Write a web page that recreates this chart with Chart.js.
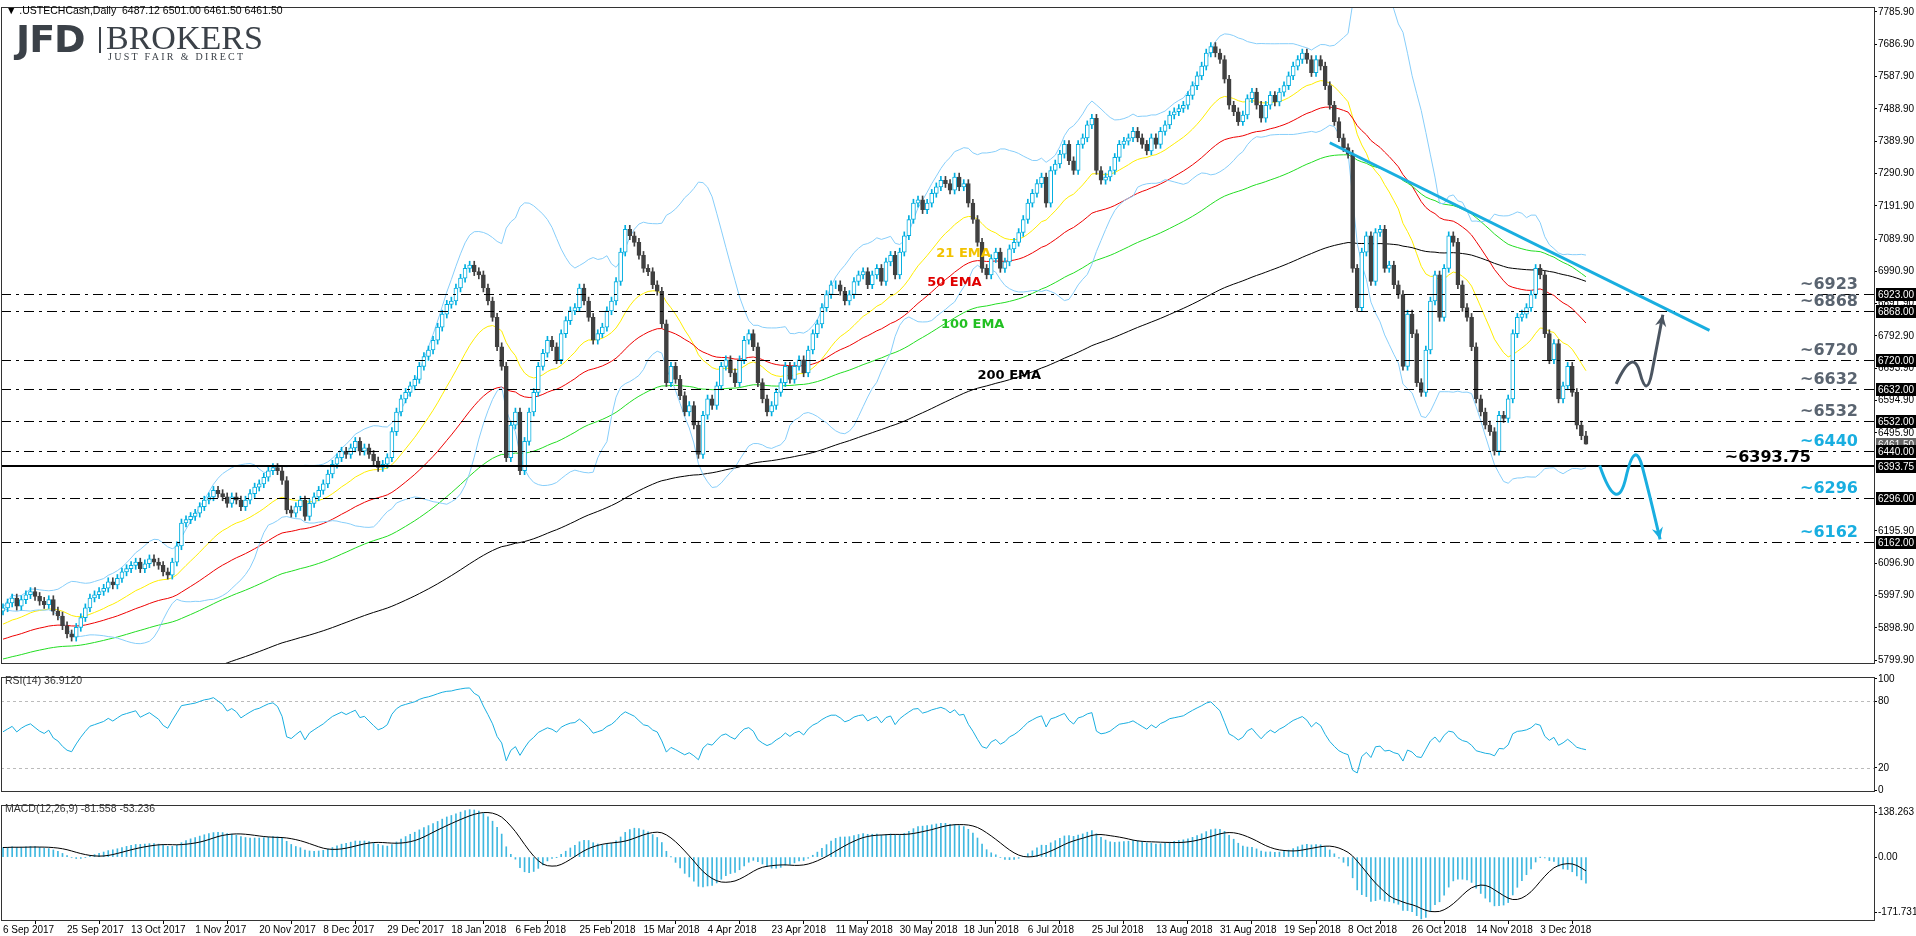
<!DOCTYPE html>
<html><head><meta charset="utf-8">
<script src="https://cdn.jsdelivr.net/npm/chart.js@4.4.1/dist/chart.umd.min.js"></script>
<style>
body{margin:0;background:#fff;width:1916px;height:936px;overflow:hidden;position:relative}
canvas{position:absolute;left:0}
.t{position:absolute;white-space:nowrap;z-index:5}
</style></head><body>
<canvas id="price" width="1916" height="670" style="top:0"></canvas>
<canvas id="rsi" width="1916" height="128" style="top:670px"></canvas>
<canvas id="macd" width="1916" height="138" style="top:798px"></canvas>
<div class="t" style="left:6px;top:4px;font:10.5px 'Liberation Sans';color:#000">&#9660; .USTECHCash,Daily&nbsp;&nbsp;6487.12 6501.00 6461.50 6461.50</div>
<div class="t" style="left:16px;top:17px;font:bold 38px 'DejaVu Sans';color:#3b4148;letter-spacing:-1px">JFD</div>
<div class="t" style="left:99px;top:27px;width:2px;height:26px;background:#3b4148"></div>
<div class="t" style="left:106px;top:19px;font:34px 'Liberation Serif';color:#3b4148">BROKERS</div>
<div class="t" style="left:108px;top:51px;font:10px 'Liberation Serif';color:#3b4148;letter-spacing:2.3px">JUST FAIR &amp; DIRECT</div>
<script>
// daily closes, one array per date-label interval (14 bars each)
const sep17a = [5960,5975,5990,5965,5985,6000,6010,5995,5980,5970,5985,5950,5935,5905];
const sep17b = [5880,5870,5900,5930,5960,5990,6000,6010,6020,6040,6030,6050,6070,6080];
const oct17  = [6090,6100,6080,6095,6110,6100,6090,6070,6060,6100,6150,6220,6230,6240];
const nov17a = [6250,6270,6290,6300,6320,6310,6300,6280,6300,6290,6270,6290,6310,6330];
const nov17b = [6340,6360,6380,6390,6380,6350,6260,6250,6270,6290,6240,6280,6300,6320];
const dec17  = [6340,6370,6400,6420,6440,6430,6450,6470,6440,6450,6430,6410,6390,6400];
const jan18a = [6420,6500,6560,6600,6620,6640,6660,6700,6730,6750,6780,6820,6860,6890];
const jan18b = [6900,6940,6970,7000,7010,6990,6980,6940,6900,6850,6760,6700,6420,6520];
const feb18a = [6560,6380,6470,6560,6620,6700,6740,6780,6760,6720,6800,6840,6870,6880];
const feb18b = [6940,6900,6850,6780,6800,6820,6870,6900,6960,7050,7120,7100,7080,7040];
const mar18  = [7000,6990,6950,6930,6830,6650,6700,6660,6610,6560,6580,6520,6430,6550];
const apr18a = [6600,6580,6640,6700,6720,6680,6650,6720,6780,6800,6760,6650,6600,6560];
const apr18b = [6580,6620,6650,6700,6660,6700,6720,6680,6750,6800,6830,6880,6920,6950];
const may18  = [6950,6930,6900,6920,6960,6980,6990,6950,6980,7000,6960,7020,7040,6980];
const jun18a = [7050,7100,7150,7200,7210,7180,7200,7230,7250,7270,7260,7240,7280,7250];
const jun18b = [7260,7200,7150,7080,7000,6980,7030,7050,7000,7020,7060,7080,7110,7150];
const jul18a = [7200,7230,7260,7280,7200,7300,7320,7350,7380,7330,7300,7380,7400,7440];
const jul18b = [7460,7300,7270,7280,7300,7340,7380,7390,7400,7420,7400,7380,7360,7400];
const aug18  = [7380,7420,7440,7470,7480,7490,7500,7530,7560,7590,7620,7660,7680,7660];
const sep18a = [7640,7580,7500,7480,7450,7470,7520,7540,7500,7460,7500,7530,7510,7540];
const sep18b = [7560,7590,7620,7640,7660,7640,7600,7640,7620,7560,7500,7450,7400,7370];
const oct18a = [7350,7000,6880,7050,7100,6960,7110,7120,7000,7010,6950,6920,6700,6860];
const oct18b = [6800,6650,6620,6750,6900,6980,6850,7000,7100,7080,6950,6880,6850,6760];
const nov18  = [6600,6560,6520,6500,6440,6550,6540,6600,6800,6850,6860,6880,6920,7000];
const dec18  = [6980,6800,6720,6770,6600,6640,6700,6620,6520,6487.12,6461.5];

const tickLabels = ['6 Sep 2017','25 Sep 2017','13 Oct 2017','1 Nov 2017','20 Nov 2017','8 Dec 2017',
  '29 Dec 2017','18 Jan 2018','6 Feb 2018','25 Feb 2018','15 Mar 2018','4 Apr 2018','23 Apr 2018',
  '11 May 2018','30 May 2018','18 Jun 2018','6 Jul 2018','25 Jul 2018','13 Aug 2018','31 Aug 2018',
  '19 Sep 2018','8 Oct 2018','26 Oct 2018','14 Nov 2018','3 Dec 2018'];
const priceTicks = [7785.9,7686.9,7587.9,7488.9,7389.9,7290.9,7191.9,7089.9,6990.9,6891.9,6792.9,
  6693.9,6594.9,6495.9,6195.9,6096.9,5997.9,5898.9,5799.9];
const levels = [6923,6868,6720,6632,6532,6440,6296,6162];
const support = 6393.75;
const lastBar = {o:6487.12, h:6501, l:6461.5, c:6461.5};

const closes = [].concat(sep17a,sep17b,oct17,nov17a,nov17b,dec17,jan18a,jan18b,feb18a,feb18b,mar18,
  apr18a,apr18b,may18,jun18a,jun18b,jul18a,jul18b,aug18,sep18a,sep18b,oct18a,oct18b,nov18,dec18);
const N = closes.length;
const opens = closes.map((c,i)=> i===0 ? 5950 : closes[i-1]);
opens[N-1] = lastBar.o;
const highs = closes.map((c,i)=> Math.max(c,opens[i]) + 12);
const lows  = closes.map((c,i)=> Math.min(c,opens[i]) - 12);
highs[N-1] = lastBar.h; lows[N-1] = lastBar.l;

function ema(arr, n, seed){ const k=2/(n+1); let e=seed; return arr.map(v=> e = v*k + e*(1-k)); }
const ema21 = ema(closes,21,5905), ema50 = ema(closes,50,5860), ema100 = ema(closes,100,5800), ema200 = ema(closes,200,5600);
const bbUp=[], bbLo=[];
closes.forEach((c,i)=>{ const w=closes.slice(Math.max(0,i-19),i+1); const m=w.reduce((a,b)=>a+b,0)/w.length;
  const sd=Math.sqrt(w.reduce((a,b)=>a+(b-m)*(b-m),0)/w.length); bbUp.push(m+2*sd); bbLo.push(m-2*sd); });
const rsi=[]; { let ag=11, al=10; closes.forEach((c,i)=>{ if(i>0){ const d=c-closes[i-1];
  ag=(ag*13+Math.max(d,0))/14; al=(al*13+Math.max(-d,0))/14; } rsi.push(100-100/(1+ag/al)); }); }
const e12 = ema(closes,12,5935), e26 = ema(closes,26,5905);
const macd = e12.map((v,i)=> v-e26[i]);
const signal = macd.map((v,i)=>{ const w=macd.slice(Math.max(0,i-8),i+1); return w.reduce((a,b)=>a+b,0)/w.length; });

const xy = arr => arr.map((y,i)=>({x:i,y}));
const BULL='#00aee0', BEAR='#404040';
const isBull = i => closes[i] >= opens[i];
const FONT = {family:'Liberation Sans', size:10};
const XMIN=-0.44, XMAX=408.96;
const xScale = extra => Object.assign({type:'linear', min:XMIN, max:XMAX, display:false, offset:false, grid:{display:false}}, extra||{});
const yAxis = (min,max,ticks,fmt) => ({position:'right', min, max,
  afterBuildTicks: s => { s.ticks = ticks.map(v=>({value:v})); },
  afterFit: s => { s.width = 42; },
  ticks:{font:FONT, color:'#000', padding:1, callback: fmt},
  grid:{drawOnChartArea:false, drawTicks:true, tickLength:3, color:'#000'},
  border:{display:true, color:'#333'}});
const line = (data,color,w) => ({type:'line', data:xy(data), borderColor:color, borderWidth:w||1, pointRadius:0, tension:0, order:1});
const frame = {id:'frame', afterDraw(c){ const a=c.chartArea, x=c.ctx; x.save(); x.strokeStyle='#333'; x.lineWidth=1;
  x.strokeRect(Math.round(a.left)+0.5, Math.round(a.top)+0.5, Math.round(a.right-a.left), Math.round(a.bottom-a.top)); x.restore(); }};
const common = {responsive:false, animation:false, devicePixelRatio:1, plugins:{legend:{display:false}, tooltip:{enabled:false}}};

function arrowHead(ctx, x1,y1,x2,y2, size){ const a=Math.atan2(y2-y1,x2-x1);
  ctx.beginPath(); ctx.moveTo(x2,y2); ctx.lineTo(x2-size*Math.cos(a-0.45), y2-size*Math.sin(a-0.45));
  ctx.lineTo(x2-size*0.6*Math.cos(a), y2-size*0.6*Math.sin(a));
  ctx.lineTo(x2-size*Math.cos(a+0.45), y2-size*Math.sin(a+0.45)); ctx.closePath(); ctx.fill(); }

const priceNotes = {id:'priceNotes', afterDatasetsDraw(c){
  const ctx=c.ctx, a=c.chartArea, X=c.scales.x, Y=c.scales.y;
  const px=i=>X.getPixelForValue(i), py=v=>Y.getPixelForValue(v);
  ctx.save(); ctx.beginPath(); ctx.rect(a.left,a.top,a.right-a.left,a.bottom-a.top); ctx.clip();
  ctx.strokeStyle='#000'; ctx.lineWidth=1; ctx.setLineDash([10,5,3,5]);
  levels.forEach(v=>{ const y=Math.round(py(v))+0.5; ctx.beginPath(); ctx.moveTo(a.left,y); ctx.lineTo(a.right,y); ctx.stroke(); });
  ctx.setLineDash([]); ctx.lineWidth=2; const ys=Math.round(py(support));
  ctx.beginPath(); ctx.moveTo(a.left,ys); ctx.lineTo(a.right,ys); ctx.stroke();
  // trend line
  ctx.strokeStyle='#19aee0'; ctx.lineWidth=3; ctx.beginPath(); ctx.moveTo(px(290),py(7385)); ctx.lineTo(px(373),py(6810)); ctx.stroke();
  // scenario arrows
  const path=(pts,col)=>{ ctx.strokeStyle=col; ctx.fillStyle=col; ctx.lineWidth=3; ctx.beginPath();
    const p=pts.map(q=>[px(q[0]),py(q[1])]); ctx.moveTo(p[0][0],p[0][1]);
    for(let i=1;i<p.length;i++){
      if(i<p.length-1) ctx.quadraticCurveTo(p[i][0],p[i][1],(p[i][0]+p[i+1][0])/2,(p[i][1]+p[i+1][1])/2); else ctx.lineTo(p[i][0],p[i][1]); }
    ctx.stroke(); const n=p.length; arrowHead(ctx,p[n-2][0],p[n-2][1],p[n-1][0],p[n-1][1],13); };
  path([[352.6,6646],[356.3,6760],[359.3,6600],[361.5,6760],[362.8,6858]],'#4b5561');
  path([[349,6396],[352.8,6240],[356.7,6480],[360,6300],[362.2,6170]],'#19aee0');
  // labels
  ctx.font='bold 13px "DejaVu Sans"'; ctx.textAlign='left'; ctx.textBaseline='middle';
  [['21 EMA',204,7046,'#f2c200'],['50 EMA',202,6955,'#e00000'],['100 EMA',205,6827,'#22c022'],['200 EMA',213,6672,'#000']]
    .forEach(([t,i,v,col])=>{ ctx.fillStyle=col; ctx.fillText(t,px(i),py(v)); });
  ctx.font='bold 16px "DejaVu Sans"'; ctx.textAlign='right'; ctx.textBaseline='alphabetic';
  levels.forEach(v=>{ ctx.fillStyle = v<=6440 ? '#19aee0' : '#5a6470'; ctx.fillText('~'+v, 1858, py(v)-5); });
  ctx.fillStyle='#000'; ctx.fillText('~'+support, 1811, py(support)-4);
  ctx.restore();
  // price tags
  ctx.save(); ctx.font='10px "Liberation Sans"'; ctx.textBaseline='middle'; ctx.textAlign='left';
  const tag=(v,bg)=>{ const y=Math.round(py(v)); ctx.fillStyle=bg; ctx.fillRect(a.right+2,y-6,40,13); ctx.fillStyle='#fff'; ctx.fillText(v.toFixed(2),a.right+4,y+1); };
  tag(lastBar.c,'#666');
  levels.concat([support]).forEach(v=>tag(v,'#000'));
  ctx.restore(); }};

new Chart(document.getElementById('price'), {
  type:'bar',
  data:{datasets:[
    line(bbUp,'#87cefa'), line(bbLo,'#87cefa'),
    line(ema200,'#000'), line(ema100,'#22dd22'), line(ema50,'#ee0000'), line(ema21,'#ffee00'),
    {data:closes.map((c,i)=>({x:i,y:[lows[i],highs[i]]})), backgroundColor:closes.map((c,i)=>isBull(i)?BULL:BEAR), barThickness:1, order:0, grouped:false},
    {data:closes.map((c,i)=>({x:i,y:[opens[i],c]})), backgroundColor:closes.map((c,i)=>isBull(i)?'#fff':BEAR),
     borderColor:closes.map((c,i)=>isBull(i)?BULL:BEAR), borderWidth:1, borderSkipped:false, barThickness:4, order:-1, grouped:false}
  ]},
  options:Object.assign({}, common, {layout:{padding:{top:2,bottom:1,left:1}},
    scales:{x:xScale(), y:yAxis(5790.9,7801,priceTicks,v=>v.toFixed(2))}}),
  plugins:[frame, priceNotes]
});

const rsiNotes = {id:'rsiNotes', beforeDatasetsDraw(c){ const ctx=c.ctx,a=c.chartArea,Y=c.scales.y; ctx.save();
  ctx.strokeStyle='#bbb'; ctx.setLineDash([3,3]); [80,20].forEach(v=>{ const y=Math.round(Y.getPixelForValue(v))+0.5;
  ctx.beginPath(); ctx.moveTo(a.left,y); ctx.lineTo(a.right,y); ctx.stroke(); });
  ctx.fillStyle='#333'; ctx.font='10.5px "Liberation Sans"'; ctx.fillText('RSI(14) 36.9120', 5, 14); ctx.restore(); }};
new Chart(document.getElementById('rsi'), {
  type:'line',
  data:{datasets:[line(rsi,'#19aee0')]},
  options:Object.assign({}, common, {layout:{padding:{top:1,bottom:1,left:1}},
    scales:{x:xScale(), y:yAxis(-0.8,101.6,[100,80,20,0],v=>String(v))}}),
  plugins:[frame, rsiNotes]
});

const macdNotes = {id:'macdNotes', afterDraw(c){ const ctx=c.ctx; ctx.save(); ctx.fillStyle='#333';
  ctx.font='10.5px "Liberation Sans"'; ctx.fillText('MACD(12,26,9) -81.558 -53.236', 5, 14); ctx.restore(); }};
new Chart(document.getElementById('macd'), {
  type:'bar',
  data:{datasets:[
    {type:'line', data:xy(signal), borderColor:'#000', borderWidth:1, pointRadius:0, order:0},
    {data:xy(macd), backgroundColor:'#3fb8e0', barThickness:1, order:1}
  ]},
  options:Object.assign({}, common, {layout:{padding:{top:1,bottom:0,left:1}},
    scales:{
      x:xScale({display:true,
        afterBuildTicks: s => { s.ticks = tickLabels.map((t,k)=>({value:k*14})); },
        afterFit: s => { s.height = 16; },
        ticks:{font:FONT, color:'#000', align:'start', padding:0, maxRotation:0, autoSkip:false,
          callback:(v,k)=> tickLabels[k]},
        grid:{drawOnChartArea:false, drawTicks:true, tickLength:4, color:'#000'}, border:{display:true,color:'#333'}}),
      y:yAxis(-195.4,161.9,[138.263,0,-171.731],v=> v===0?'0.00':v.toFixed(3))}}),
  plugins:[frame, macdNotes]
});
</script>
</body></html>
